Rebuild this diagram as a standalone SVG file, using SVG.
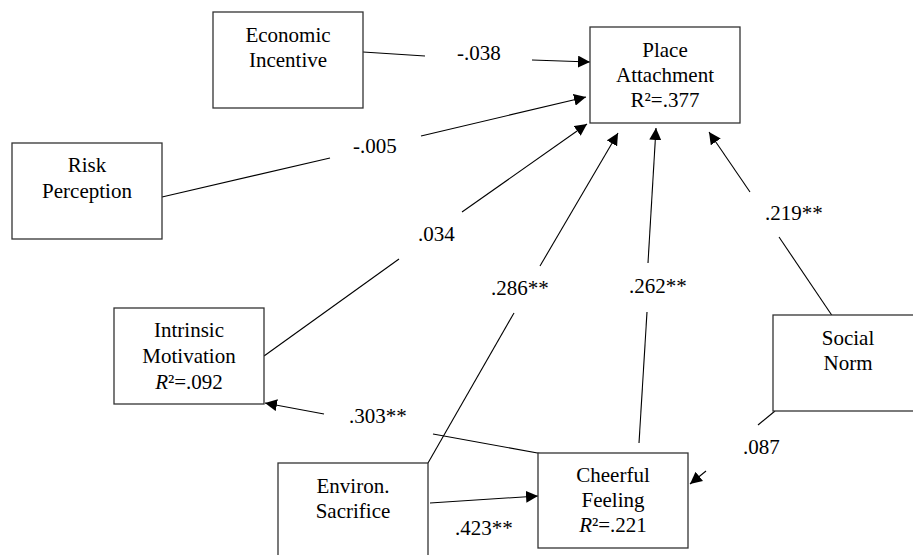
<svg xmlns="http://www.w3.org/2000/svg" width="913" height="555" viewBox="0 0 913 555">
<style>
  .box { fill: #ffffff; stroke: #333333; stroke-width: 1.3; }
  .t { text-anchor: middle; }
  .ln { stroke: #000000; stroke-width: 1.1; fill: none; }
  .arr { stroke: #000000; stroke-width: 1.1; fill: none; marker-end: url(#ah); }
  text { font-family: 'Liberation Serif', 'Times New Roman', Times, 'Nimbus Roman', 'Noto Serif', FreeSerif, 'DejaVu Serif', serif; font-size: 21px; fill: #000000; }
</style>
<defs>
  <marker id="ah" markerUnits="userSpaceOnUse" markerWidth="13" markerHeight="12" refX="12" refY="6" orient="auto">
    <path d="M0,0 L12,6 L0,12 z" fill="#000000"/>
  </marker>
</defs>
<rect width="913" height="555" fill="#ffffff"/>

<g id="connectors">
  <line class="ln" x1="363" y1="52" x2="425" y2="56"/>
  <line class="arr" x1="532" y1="60" x2="590" y2="62"/>
  <line class="ln" x1="162" y1="197" x2="330" y2="158"/>
  <line class="arr" x1="421" y1="136" x2="586" y2="97"/>
  <line class="ln" x1="264" y1="356" x2="399" y2="259"/>
  <line class="arr" x1="462" y1="212" x2="587" y2="124"/>
  <line class="ln" x1="428" y1="463" x2="514" y2="313"/>
  <line class="arr" x1="540" y1="266" x2="618" y2="133"/>
  <line class="ln" x1="639" y1="443" x2="647" y2="312"/>
  <line class="arr" x1="648" y1="263" x2="656" y2="128"/>
  <line class="ln" x1="833" y1="317" x2="779" y2="237"/>
  <line class="arr" x1="750" y1="192" x2="709" y2="132"/>
  <line class="ln" x1="543" y1="454" x2="433" y2="434"/>
  <line class="arr" x1="324" y1="414" x2="265" y2="403"/>
  <line class="arr" x1="430" y1="503" x2="538" y2="496"/>
  <line class="ln" x1="775" y1="411" x2="758" y2="425"/>
  <line class="arr" x1="706" y1="471" x2="690" y2="484"/>
  <text x="457" y="60">-.038</text>
  <text x="353" y="153">-.005</text>
  <text x="418" y="241">.034</text>
  <text x="491" y="295">.286**</text>
  <text x="629" y="293">.262**</text>
  <text x="765" y="220">.219**</text>
  <text x="349" y="423">.303**</text>
  <text x="455" y="535">.423**</text>
  <text x="743" y="454">.087</text>
</g>

<g id="economic-incentive">
  <rect class="box" x="213" y="12" width="150" height="96"/>
  <text class="t" x="288" y="42">Economic</text>
  <text class="t" x="288" y="67">Incentive</text>
</g>

<g id="place-attachment">
  <rect class="box" x="590" y="27" width="150" height="96"/>
  <text class="t" x="665" y="57">Place</text>
  <text class="t" x="665" y="82">Attachment</text>
  <text class="t" x="665" y="107">R²=.377</text>
</g>

<g id="risk-perception">
  <rect class="box" x="12" y="143" width="150" height="96"/>
  <text class="t" x="87" y="172">Risk</text>
  <text class="t" x="87" y="198">Perception</text>
</g>

<g id="intrinsic-motivation">
  <rect class="box" x="114" y="308" width="150" height="96"/>
  <text class="t" x="189" y="337">Intrinsic</text>
  <text class="t" x="189" y="363">Motivation</text>
  <text class="t" x="189" y="389"><tspan font-style="italic">R</tspan>²=.092</text>
</g>

<g id="environ-sacrifice">
  <rect class="box" x="278" y="463" width="150" height="96"/>
  <text class="t" x="353" y="493">Environ.</text>
  <text class="t" x="353" y="518">Sacrifice</text>
</g>

<g id="cheerful-feeling">
  <rect class="box" x="538" y="453" width="150" height="95"/>
  <text class="t" x="613" y="482">Cheerful</text>
  <text class="t" x="613" y="507">Feeling</text>
  <text class="t" x="613" y="532"><tspan font-style="italic">R</tspan>²=.221</text>
</g>

<g id="social-norm">
  <rect class="box" x="773" y="315" width="150" height="96"/>
  <text class="t" x="848" y="345">Social</text>
  <text class="t" x="848" y="370">Norm</text>
</g>
</svg>
